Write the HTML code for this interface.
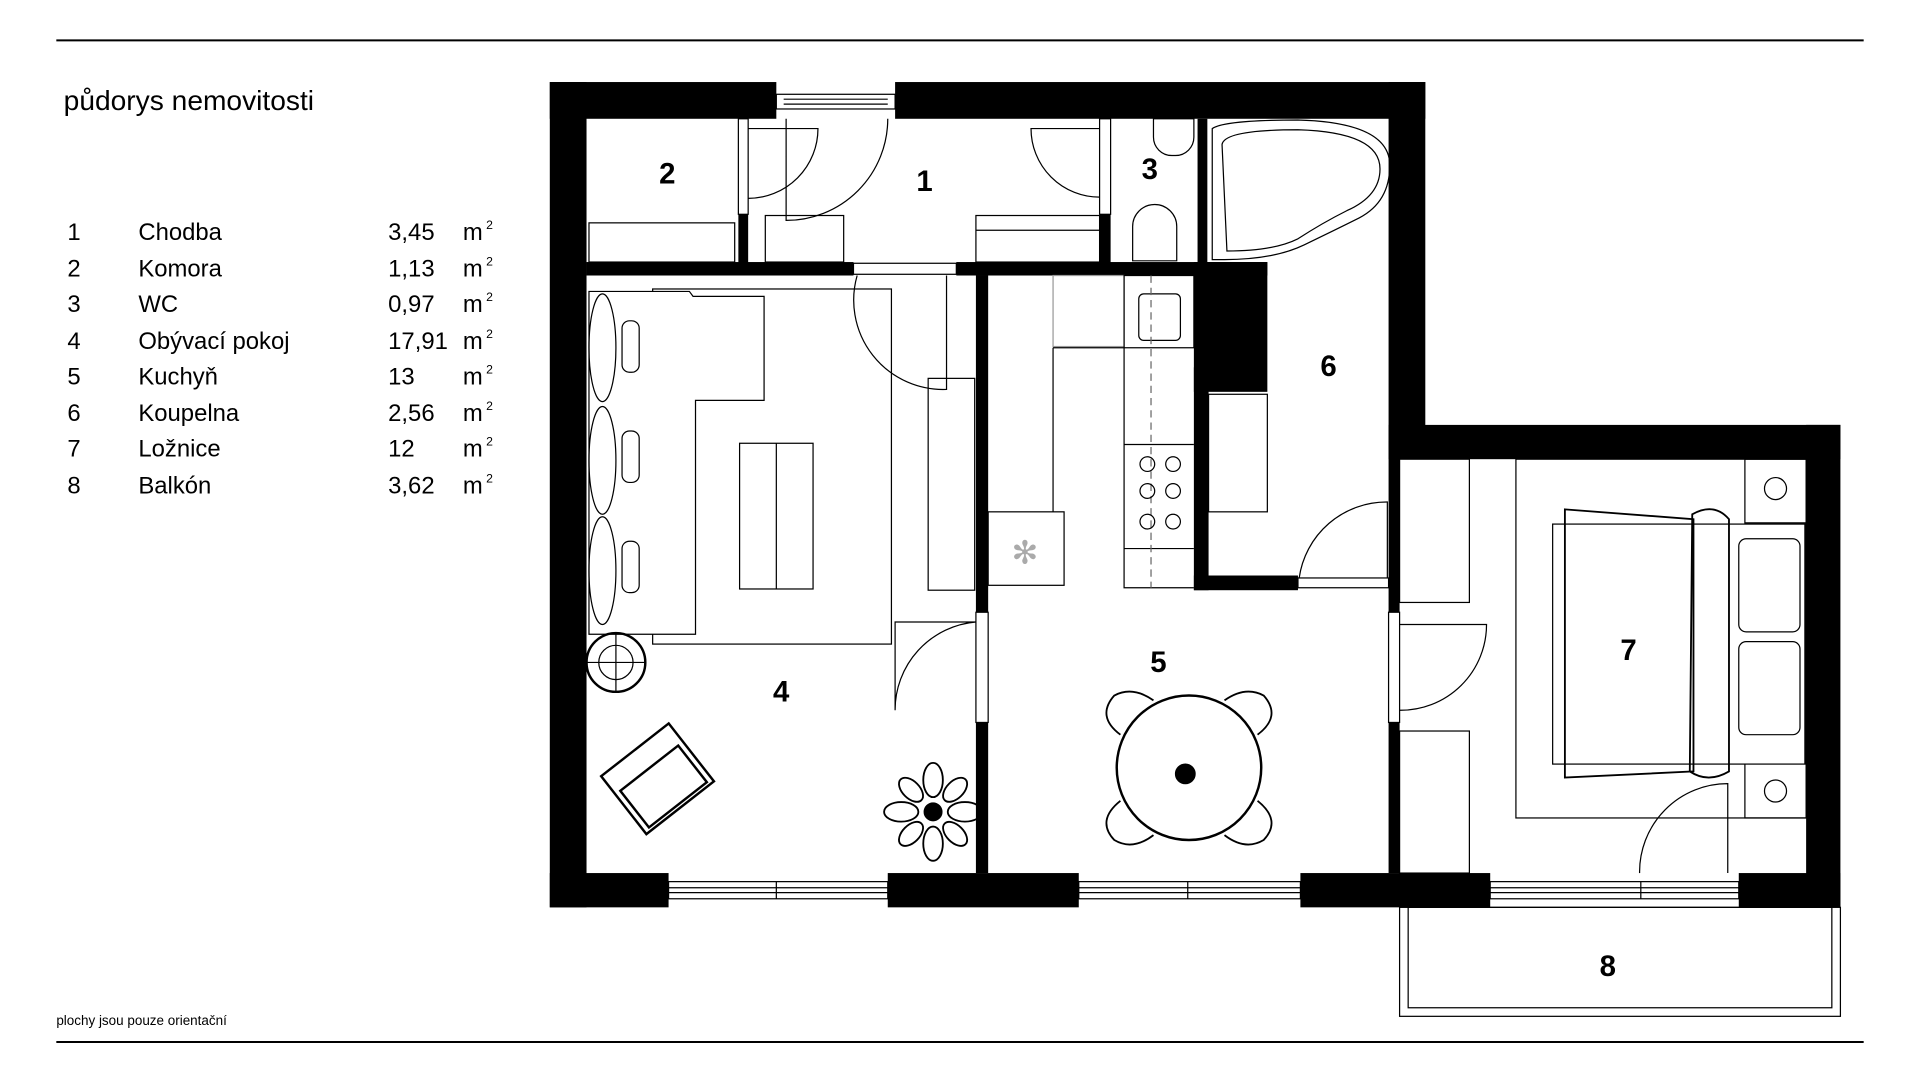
<!DOCTYPE html>
<html><head><meta charset="utf-8"><style>
html,body{margin:0;padding:0;background:#fff;width:1920px;height:1080px;overflow:hidden}
svg{display:block}
text{font-family:"Liberation Sans",sans-serif}
</style></head><body>
<svg width="1920" height="1080" viewBox="0 0 1568 882" preserveAspectRatio="none">
<rect width="1568" height="882" fill="#fff"/>
<line x1="46" y1="33" x2="1522" y2="33" stroke="#000" stroke-width="1.6"/>
<line x1="46" y1="851" x2="1522" y2="851" stroke="#000" stroke-width="1.6"/>
<text x="52" y="90" font-size="23">půdorys nemovitosti</text>
<g font-size="19.5">
<text x="55" y="196">1</text><text x="113" y="196">Chodba</text><text x="317" y="196">3,45</text><text x="378" y="196">m</text><text x="397" y="187" font-size="10">2</text>
<text x="55" y="226">2</text><text x="113" y="226">Komora</text><text x="317" y="226">1,13</text><text x="378" y="226">m</text><text x="397" y="217" font-size="10">2</text>
<text x="55" y="255">3</text><text x="113" y="255">WC</text><text x="317" y="255">0,97</text><text x="378" y="255">m</text><text x="397" y="246" font-size="10">2</text>
<text x="55" y="285">4</text><text x="113" y="285">Obývací pokoj</text><text x="317" y="285">17,91</text><text x="378" y="285">m</text><text x="397" y="276" font-size="10">2</text>
<text x="55" y="314">5</text><text x="113" y="314">Kuchyň</text><text x="317" y="314">13</text><text x="378" y="314">m</text><text x="397" y="305" font-size="10">2</text>
<text x="55" y="344">6</text><text x="113" y="344">Koupelna</text><text x="317" y="344">2,56</text><text x="378" y="344">m</text><text x="397" y="335" font-size="10">2</text>
<text x="55" y="373">7</text><text x="113" y="373">Ložnice</text><text x="317" y="373">12</text><text x="378" y="373">m</text><text x="397" y="364" font-size="10">2</text>
<text x="55" y="403">8</text><text x="113" y="403">Balkón</text><text x="317" y="403">3,62</text><text x="378" y="403">m</text><text x="397" y="394" font-size="10">2</text>
</g>
<text x="46" y="837" font-size="11">plochy jsou pouze orientační</text>

<!-- walls -->
<g fill="#000">
<rect x="449" y="67" width="185" height="30"/>
<rect x="731" y="67" width="433" height="30"/>
<rect x="449" y="67" width="30" height="674"/>
<rect x="1134" y="67" width="30" height="300"/>
<rect x="1134" y="347" width="369" height="28"/>
<rect x="1475" y="347" width="28" height="394"/>
<rect x="449" y="713" width="97" height="28"/>
<rect x="725" y="713" width="156" height="28"/>
<rect x="1062" y="713" width="155" height="28"/>
<rect x="1420" y="713" width="83" height="28"/>
<rect x="479" y="214" width="218" height="11"/>
<rect x="781" y="214" width="254" height="11"/>
<rect x="603" y="175" width="8" height="40"/>
<rect x="898" y="175" width="9" height="40"/>
<rect x="978" y="97" width="8" height="118"/>
<rect x="975" y="214" width="60" height="106"/>
<rect x="975" y="300" width="12" height="182"/>
<rect x="975" y="470" width="85" height="12"/>
<rect x="797" y="225" width="10" height="275"/>
<rect x="797" y="590" width="10" height="123"/>
<rect x="1134" y="360" width="9" height="140"/>
<rect x="1134" y="590" width="9" height="123"/>
</g>

<g fill="none" stroke="#000" stroke-width="1">
<!-- window top entry -->
<rect x="634" y="77" width="97" height="12"/><line x1="640" y1="81" x2="725" y2="81"/><line x1="640" y1="85" x2="725" y2="85"/>
<!-- bottom windows -->
<rect x="546" y="720" width="179" height="14"/><line x1="546" y1="725" x2="725" y2="725"/><line x1="546" y1="729" x2="725" y2="729"/><line x1="634" y1="720" x2="634" y2="734"/>
<rect x="881" y="720" width="181" height="14"/><line x1="881" y1="725" x2="1062" y2="725"/><line x1="881" y1="729" x2="1062" y2="729"/><line x1="970" y1="720" x2="970" y2="734"/>
<rect x="1217" y="720" width="203" height="14"/><line x1="1217" y1="725" x2="1420" y2="725"/><line x1="1217" y1="729" x2="1420" y2="729"/><line x1="1340" y1="720" x2="1340" y2="734"/>
<!-- balcony -->
<rect x="1143" y="741" width="360" height="89"/><rect x="1150" y="741" width="346" height="82"/>
<!-- door frames -->
<rect x="697" y="215" width="84" height="9"/>
<rect x="797" y="500" width="10" height="90"/>
<rect x="1134" y="500" width="9" height="90"/>
<rect x="1060" y="472" width="74" height="8"/>
<rect x="603" y="97" width="8" height="78"/>
<rect x="898" y="97" width="9" height="78"/>
<!-- door arcs -->
<path d="M725 97 A 83 83 0 0 1 642 180 L642 97"/>
<path d="M611 105 L668 105 A 57 57 0 0 1 611 162"/>
<path d="M898 105 L842 105 A 56 56 0 0 0 898 161"/>
<path d="M773 225 L773 318 A 73 73 0 0 1 700 225"/>
<path d="M797 508 L731 508 L731 580 A 72 72 0 0 1 797 508"/>
<path d="M1143 510 L1214 510 A 70 70 0 0 1 1143 580"/>
<path d="M1134 412 L1134 412 M1061 472 A 72 72 0 0 1 1133 410 L1133 472"/>
<path d="M1411 713 L1411 640 A 72 72 0 0 0 1339 713"/>
<!-- storage 2 shelf -->
<rect x="481" y="182" width="119" height="32"/>
<!-- hall furniture -->
<rect x="625" y="176" width="64" height="38"/>
<rect x="797" y="176" width="101" height="38"/><line x1="797" y1="188" x2="898" y2="188"/>
<!-- WC -->
<path d="M925 213 L925 185 A 18 18 0 0 1 961 185 L961 213Z"/>
<path d="M942 97 L975 97 L975 112 A 15 15 0 0 1 960 127 L957 127 A 15 15 0 0 1 942 112Z"/>
<!-- bath -->
<path d="M990 105 Q1000 98 1060 98 Q1135 100 1135 135 Q1135 165 1110 178 Q1090 188 1065 200 Q1040 212 1000 212 L990 212Z"/>
<path d="M998 118 Q1000 106 1060 106 Q1127 108 1127 138 Q1127 160 1100 172 Q1080 182 1060 195 Q1040 205 1002 205 Z"/>
<!-- living: carpet, sofa -->
<rect x="533" y="236" width="195" height="290"/>
<path d="M481 238 L563 238 L566 242 L624 242 L624 327 L568 327 L568 518 L481 518Z" fill="#fff"/>
<ellipse cx="492" cy="284" rx="11" ry="44"/><ellipse cx="492" cy="376" rx="11" ry="44"/><ellipse cx="492" cy="466" rx="11" ry="44"/>
<rect x="508" y="262" width="14" height="42" rx="6"/><rect x="508" y="352" width="14" height="42" rx="6"/><rect x="508" y="442" width="14" height="42" rx="6"/>
<rect x="604" y="362" width="60" height="119"/><line x1="634" y1="362" x2="634" y2="481"/>
<rect x="758" y="309" width="38" height="173"/>
<circle cx="503" cy="541" r="24" stroke-width="2"/><circle cx="503" cy="541" r="14"/><line x1="479" y1="541" x2="527" y2="541"/><line x1="503" y1="517" x2="503" y2="565"/>
<g transform="rotate(-38 537 636)" stroke-width="2"><rect x="502" y="606" width="70" height="60"/><rect x="507" y="625" width="60" height="38"/></g>
<g transform="translate(762 663)" stroke-width="1.5">
<ellipse cx="0" cy="-26" rx="8" ry="14"/><ellipse cx="0" cy="26" rx="8" ry="14"/><ellipse cx="-26" cy="0" rx="14" ry="8"/><ellipse cx="26" cy="0" rx="14" ry="8"/>
<ellipse cx="-18" cy="-18" rx="12" ry="7" transform="rotate(45 -18 -18)"/><ellipse cx="18" cy="18" rx="12" ry="7" transform="rotate(45 18 18)"/>
<ellipse cx="18" cy="-18" rx="12" ry="7" transform="rotate(-45 18 -18)"/><ellipse cx="-18" cy="18" rx="12" ry="7" transform="rotate(-45 -18 18)"/>
<circle r="7" fill="#000"/></g>
<!-- kitchen -->
<rect x="860" y="225" width="58" height="58" stroke="#999"/>
<rect x="918" y="225" width="57" height="59"/>
<rect x="930" y="240" width="34" height="38" rx="4"/>
<path d="M860 284 L918 284 L918 480 L975 480 M860 284 L860 418"/>
<line x1="918" y1="363" x2="975" y2="363"/><line x1="918" y1="448" x2="975" y2="448"/>
<line x1="940" y1="225" x2="940" y2="480" stroke-dasharray="6 4" stroke="#666"/>
<circle cx="937" cy="379" r="6"/><circle cx="958" cy="379" r="6"/><circle cx="937" cy="401" r="6"/><circle cx="958" cy="401" r="6"/><circle cx="937" cy="426" r="6"/><circle cx="958" cy="426" r="6"/>
<rect x="807" y="418" width="62" height="60"/>
<text x="837" y="460" font-size="26" fill="#aaa" stroke="none" text-anchor="middle">✻</text>
<!-- bathroom sink -->
<rect x="987" y="322" width="48" height="96"/>
<!-- dining -->
<circle cx="971" cy="627" r="59" stroke-width="2"/>
<path d="M915 600 Q895 585 910 568 Q925 560 942 572" stroke-width="1.5"/>
<path d="M1000 572 Q1017 560 1032 568 Q1047 585 1027 600" stroke-width="1.5"/>
<path d="M915 654 Q895 670 910 686 Q925 695 942 682" stroke-width="1.5"/>
<path d="M1000 682 Q1017 695 1032 686 Q1047 670 1027 654" stroke-width="1.5"/>
<circle cx="968" cy="632" r="8" fill="#000"/>
<!-- bedroom -->
<rect x="1143" y="375" width="57" height="117"/><rect x="1143" y="597" width="57" height="116"/>
<rect x="1238" y="375" width="237" height="293"/>
<rect x="1425" y="375" width="50" height="52"/><circle cx="1450" cy="399" r="9"/>
<rect x="1425" y="621" width="50" height="47"/><circle cx="1450" cy="646" r="9"/>
<rect x="1268" y="428" width="206" height="196" fill="#fff"/>
<path d="M1278 416 L1383 424 L1383 630 L1278 635 Z" stroke-width="1.5"/>
<path d="M1382 420 Q1400 410 1412 424 L1412 630 Q1395 640 1380 630 Z" stroke-width="1.5"/>
<rect x="1420" y="440" width="50" height="76" rx="6"/><rect x="1420" y="524" width="50" height="76" rx="6"/>
</g>
<g font-weight="bold" font-size="24" text-anchor="middle">
<text x="545" y="150">2</text><text x="755" y="156">1</text><text x="939" y="146">3</text>
<text x="1085" y="307">6</text><text x="638" y="573">4</text><text x="946" y="549">5</text>
<text x="1330" y="539">7</text><text x="1313" y="797">8</text>
</g>
</svg>
</body></html>
